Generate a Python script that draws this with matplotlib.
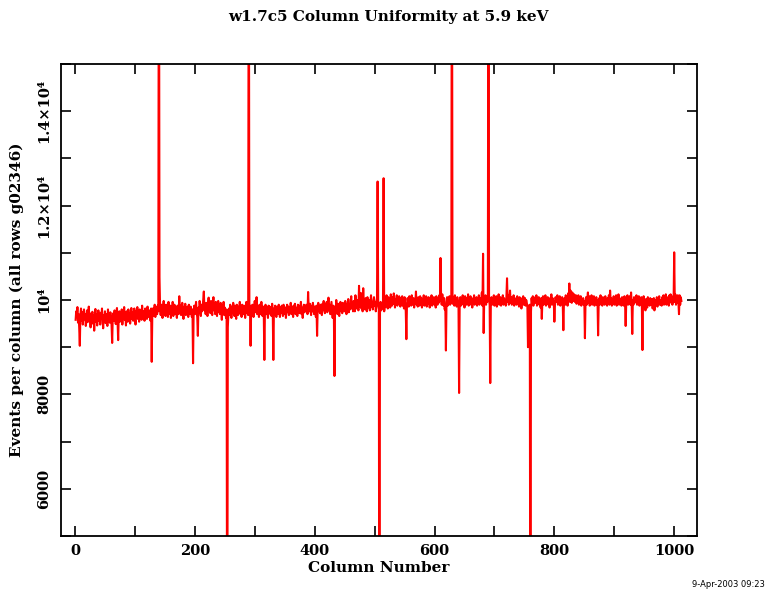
import matplotlib
matplotlib.use("Agg")
import matplotlib.pyplot as plt

# events per column, columns 1..1012
# (off-scale spikes given as 20000 / 0)
counts_a = [
    9580, 9760, 9640, 9850, 9520, 9700, 9410, 9030, 9690, 9820, 9560, 9740, 9480, 9660, 9800, 9590,
    9700, 9450, 9620, 9780, 9530, 9680, 9860, 9570, 9640, 9420, 9720, 9600, 9750, 9500, 9680, 9350,
    9620, 9810, 9540, 9700, 9460, 9650, 9780, 9560, 9690, 9480, 9730, 9600, 9820, 9550, 9400, 9680,
    9590, 9760, 9510, 9700, 9640, 9450, 9800, 9580, 9670, 9520, 9740, 9610, 9470, 9090, 9650, 9720,
    9560, 9780, 9620, 9490, 9700, 9830, 9550, 9150, 9680, 9760, 9540, 9690, 9610, 9800, 9480, 9720,
    9640, 9850, 9580, 9700, 9460, 9760, 9620, 9540, 9800, 9680, 9720, 9500, 9660, 9830, 9600, 9740,
    9560, 9700, 9820, 9620, 9480, 9760, 9680, 9850, 9600, 9720, 9540, 9800, 9660, 9740, 9580, 9880,
    9640, 9760, 9700, 9560, 9820, 9680, 9750, 9600, 9860, 9700, 9640, 9780, 9720, 9560, 9820, 8690,
]
counts_b = [
    9700, 9820, 9660, 9780, 9900, 9640, 9760, 9850, 9700, 9880, 9760, 20000, 10480, 9820, 9680, 9900,
    9740, 9620, 9860, 9980, 9700, 9800, 9660, 9900, 9740, 9820, 9640, 9960, 9780, 9700, 9880, 9620,
    9820, 9740, 9960, 9660, 9800, 9900, 9700, 9840, 9760, 9620, 9880, 9780, 9700, 10080, 9760, 9880,
    9680, 9820, 9940, 9720, 9600, 9860, 9760, 9920, 9680, 9800, 9720, 9860, 9640, 9900, 9780, 9700,
    9860, 9740, 9640, 9800, 8660, 9760, 9880, 9700, 9820, 9960, 9740, 9640, 9240, 9840, 9720, 9980,
    9800, 9660, 9900, 9760, 9840, 10000, 10180, 9780, 9880, 9700, 9940, 9820, 9660, 9900, 10050, 9760,
    9880, 9720, 9980, 9800, 9680, 9920, 10060, 9780, 9860, 9700, 9960, 9820, 9660, 9900, 9980, 9740,
    9860, 9700, 9940, 9800, 9580, 9880, 9760, 9960, 9680, 9840, 9760, 9620, 9800, 0, 9420, 9700,
]
counts_c = [
    9820, 9680, 9900, 9760, 9620, 9860, 9720, 9940, 9780, 9660, 9880, 9740, 9600, 9900, 9800, 9680,
    9860, 9740, 9960, 9700, 9820, 9640, 9900, 9780, 9700, 9880, 9760, 9620, 9840, 9960, 9720, 9800,
    9680, 20000, 9760, 9880, 9030, 9820, 9700, 9900, 9760, 9640, 9860, 9980, 9740, 9820, 10060, 9700,
    9880, 9760, 9640, 9900, 9800, 9700, 9960, 9780, 9660, 9860, 9740, 8730, 9820, 9900, 9700, 9840,
    9760, 9620, 9880, 9740, 9860, 9700, 9800, 9660, 9920, 9760, 8730, 9820, 9700, 9880, 9760, 9640,
    9860, 9780, 9700, 9900, 9760, 9640, 9840, 9720, 9880, 9800, 9660, 9900, 9760, 9700, 9840, 9620,
    9800, 9900, 9740, 9860, 9680, 9820, 9760, 9940, 9700, 9860, 9780, 9640, 9880, 9760, 9920, 9700,
    9840, 9760, 9660, 9900, 9800, 9720, 9880, 9760, 9960, 9700, 9840, 9620, 9800, 9900, 9740, 9860,
]
counts_d = [
    9780, 9900, 9820, 9700, 10170, 9840, 9760, 9920, 9800, 9680, 9880, 9760, 9940, 9820, 9700, 9860,
    9760, 9640, 9880, 9240, 9820, 9940, 9760, 9860, 9720, 9900, 9800, 9680, 9920, 9780, 9980, 9840,
    9720, 9900, 9800, 9960, 9740, 9860, 10050, 9780, 9900, 9700, 9840, 9960, 9780, 9620, 9880, 9720,
    8390, 9860, 9760, 10000, 9840, 9700, 9920, 9800, 9660, 9900, 9960, 9760, 9880, 9720, 9940, 9820,
    9900, 9760, 9980, 9840, 9700, 9920, 9860, 10020, 9740, 9900, 9800, 9960, 10080, 9820, 9940, 9760,
    9980, 9860, 9760, 10100, 9900, 9820, 10000, 9880, 9780, 10300, 9860, 9960, 10150, 9820, 9900, 9760,
    10250, 9880, 9960, 9800, 10040, 9900, 9760, 10060, 9920, 9840, 10000, 9780, 9960, 10100, 9860, 9940,
    9800, 9980, 10060, 9880, 9960, 9760, 9920, 10040, 12510, 9880, 9800, 0, 9840, 9960, 9780, 9900,
]
counts_e = [
    9820, 9960, 12580, 9760, 9900, 10040, 9860, 10100, 9940, 9820, 10060, 9900, 10000, 9840, 10120, 9960,
    9880, 10060, 9920, 10140, 9980, 9840, 10020, 9940, 10100, 9880, 10000, 9920, 10080, 9960, 9860, 10040,
    9940, 10080, 9880, 10000, 9820, 10060, 9920, 9760, 9170, 9900, 10040, 9960, 9860, 10080, 9940, 10020,
    9880, 10100, 9960, 9900, 10040, 9840, 10000, 9940, 10180, 9900, 10020, 9860, 10060, 9960, 9880, 10080,
    9920, 10040, 9840, 10000, 9960, 10100, 9880, 10020, 9940, 10080, 9860, 10000, 9920, 10060, 9960, 9840,
    10040, 9940, 10100, 9880, 10000, 9960, 10060, 9900, 10020, 9840, 10080, 9960, 9900, 10040, 9940, 10100,
    9980, 10890, 10020, 9900, 10120, 9960, 9880, 10040, 9800, 9900, 8930, 9960, 10060, 9880, 10020, 9940,
    10080, 9900, 10000, 9960, 20000, 9920, 10060, 9980, 9880, 10100, 9940, 10020, 9860, 10060, 9960, 9900,
]
counts_f = [
    8030, 9960, 10060, 9880, 10020, 9940, 10100, 9900, 10000, 9840, 10080, 9960, 9900, 10040, 9940, 10120,
    9880, 10000, 9960, 10080, 9900, 10040, 9840, 10000, 9960, 10100, 9900, 10020, 9940, 10060, 9880, 10000,
    9960, 10100, 9900, 10040, 9940, 10000, 10160, 9880, 10980, 9300, 10060, 9940, 10100, 9900, 10020, 9960,
    10080, 20000, 10000, 9900, 8240, 9960, 10060, 9900, 10040, 9960, 10100, 9880, 10020, 9940, 10080, 9860,
    10040, 9960, 10120, 9900, 10000, 10060, 9880, 10020, 9960, 10100, 9900, 10040, 9940, 10000, 9880, 10080,
    10460, 9960, 10100, 9900, 10040, 10200, 9940, 10060, 9900, 10000, 9960, 10100, 9880, 10040, 9940, 10020,
    9900, 10080, 9960, 10000, 9860, 10060, 9920, 10040, 9820, 10000, 9960, 10080, 9900, 9980, 10040, 9880,
    10000, 9940, 9860, 9000, 9880, 9300, 9900, 0, 9760, 10040, 9920, 10080, 9880, 10000, 9960, 10060,
]
counts_g = [
    9940, 10100, 9880, 10020, 9960, 10060, 9900, 10000, 9840, 10040, 9600, 9960, 10080, 9900, 10020, 9940,
    10100, 9880, 10000, 9960, 10060, 9900, 10040, 9840, 10000, 9960, 10120, 9900, 10040, 9940, 9980, 9540,
    9900, 10060, 9960, 10000, 10100, 9900, 10040, 9960, 10080, 9880, 10000, 9940, 10060, 9900, 9360, 9960,
    10040, 9900, 10100, 9960, 10020, 9880, 10140, 10000, 10350, 9960, 10200, 10040, 9940, 10160, 9980, 10060,
    10120, 9960, 10040, 10100, 9920, 10060, 9980, 10100, 9900, 10020, 9940, 10080, 9880, 10000, 9960, 10040,
    9900, 9980, 9190, 9960, 10060, 9900, 10020, 10160, 9940, 10080, 9880, 10000, 9960, 10100, 9900, 10040,
    9960, 10080, 9880, 10020, 9940, 10060, 9900, 10000, 9250, 9960, 10040, 9900, 10100, 9960, 10000, 9880,
    10060, 9940, 10020, 9900, 10080, 9960, 10000, 9880, 10040, 9960, 10100, 9900, 10200, 9960, 10040, 9880,
]
counts_h = [
    10000, 9940, 10080, 9900, 10040, 9960, 10100, 9880, 10020, 9960, 10120, 9900, 10040, 9960, 10000, 9880,
    10060, 9940, 10000, 9880, 10080, 9920, 9450, 9960, 10040, 10100, 9900, 10000, 9960, 10080, 9900, 10160,
    9960, 9280, 10000, 9900, 10060, 9940, 10020, 9960, 10100, 9900, 10040, 9940, 10080, 9880, 10000, 9960,
    10060, 9900, 8940, 10000, 10080, 9940, 9980, 9780, 10020, 9900, 9840, 10060, 9940, 10000, 9880, 10040,
    9960, 9900, 10020, 9820, 9960, 10040, 9780, 9960, 10000, 9900, 10060, 9860, 10020, 9960, 10080, 9900,
    10000, 9940, 9880, 10060, 9960, 10100, 9900, 10040, 9960, 10120, 9900, 10060, 9940, 10000, 9880, 10100,
    9960, 10120, 9940, 10080, 9900, 10040, 9960, 11010, 9960, 10120, 9900, 10060, 9940, 10100, 9960, 9700,
    10100, 9900, 10060, 9980,
]

counts = counts_a + counts_b + counts_c + counts_d + counts_e + counts_f + counts_g + counts_h
columns = list(range(1, len(counts) + 1))

x_ticks = [0, 200, 400, 600, 800, 1000]
y_ticks = [6000, 8000, 10000, 12000, 14000]
y_tick_labels = ["6000", "8000", "10⁴", "1.2×10⁴", "1.4×10⁴"]

plt.rcParams["font.family"] = ["DejaVu Serif"]
plt.rcParams["font.weight"] = "bold"

fig = plt.figure(figsize=(7.77, 5.92), dpi=100)
ax = fig.add_axes([0.0785, 0.0946, 0.8185, 0.7973])

ax.plot(columns, counts, color="red", lw=1.5)

ax.set_xlim(-23.4, 1038)
ax.set_ylim(5000, 15000)

ax.set_xticks(x_ticks)
ax.set_xticks(range(100, 1001, 200), minor=True)
ax.set_yticks(y_ticks)
ax.set_yticklabels(y_tick_labels, rotation=90, va="center")
ax.set_yticks(range(5000, 15001, 1000), minor=True)
ax.tick_params(which="both", direction="in", length=7, width=1.2,
               top=True, right=True, labelsize=10.5)
ax.tick_params(axis="x", pad=6)
ax.tick_params(axis="y", pad=7)
for s in ax.spines.values():
    s.set_linewidth(1.3)

fig.text(0.5, 0.971, "w1.7c5 Column Uniformity at 5.9 keV", ha="center", va="center",
         fontsize=11, fontweight="bold")
fig.text(0.4875, 0.040, "Column Number", ha="center", va="center",
         fontsize=11, fontweight="bold")
fig.text(0.022, 0.4933, "Events per column (all rows g02346)", ha="center", va="center",
         rotation=90, fontsize=11, fontweight="bold")
fig.text(0.985, 0.012, "9-Apr-2003 09:23", ha="right", va="center",
         fontsize=6, fontweight="normal", family="DejaVu Sans")

fig.savefig("out.png", dpi=100)
